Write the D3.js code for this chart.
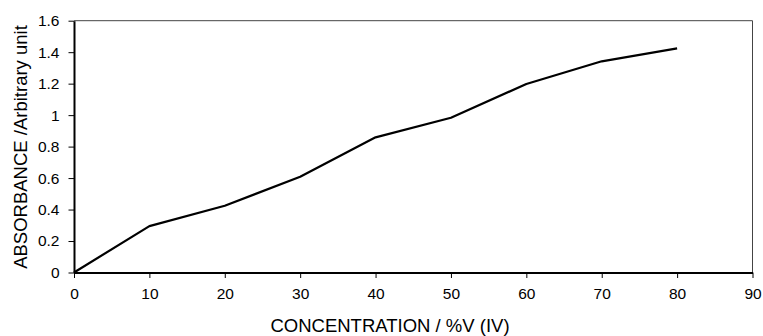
<!DOCTYPE html>
<html>
<head>
<meta charset="utf-8">
<script src="https://cdn.jsdelivr.net/npm/d3@7"></script>
<style>
  body { margin: 0; background: #fff; }
  svg text { font-family: "Liberation Sans", Arial, sans-serif; fill: #000; }
</style>
</head>
<body>
<svg id="chart" width="763" height="336"></svg>
<script>
// concentration values (%V) and absorbance
const concentration = [0, 10, 20, 30, 40, 50, 60, 70, 80];
const absorbance = [0, 0.295, 0.424, 0.609, 0.859, 0.983, 1.198, 1.342, 1.424];
const xTicks = [0, 10, 20, 30, 40, 50, 60, 70, 80, 90];
const yTicks = [0, 0.2, 0.4, 0.6, 0.8, 1, 1.2, 1.4, 1.6];

const svg = d3.select("#chart");
const plotLeft = 74, plotRight = 752.5, plotTop = 20.7, plotBottom = 272.5;

const x = d3.scaleLinear().domain([0, 90]).range([plotLeft, plotRight]);
const y = d3.scaleLinear().domain([0, 1.6]).range([plotBottom, plotTop]);

// frame on top and right
svg.append("path")
  .attr("d", `M${plotLeft},${plotTop}H${plotRight}V${plotBottom}`)
  .attr("fill", "none")
  .attr("stroke", "#444")
  .attr("stroke-width", 1);

// x axis
const xAxis = svg.append("g")
  .attr("transform", `translate(0,${plotBottom})`)
  .call(d3.axisBottom(x).tickValues(xTicks).tickSize(5.5).tickPadding(10).tickSizeOuter(0));
xAxis.select(".domain").attr("stroke", "#000").attr("stroke-width", 2);
xAxis.selectAll(".tick line").attr("stroke", "#000");
xAxis.selectAll("text").style("font-size", "15.5px");

// y axis
const yAxis = svg.append("g")
  .attr("transform", `translate(${plotLeft},0)`)
  .call(d3.axisLeft(y).tickValues(yTicks).tickSize(5.5).tickPadding(9).tickSizeOuter(0)
    .tickFormat(d => String(+d.toFixed(1))));
yAxis.select(".domain").attr("stroke", "#000").attr("stroke-width", 2);
yAxis.selectAll(".tick line").attr("stroke", "#000");
yAxis.selectAll("text").style("font-size", "15.5px");

// data line
const pts = concentration.map((c, i) => [c, absorbance[i]]);
svg.append("path")
  .datum(pts)
  .attr("fill", "none")
  .attr("stroke", "#000")
  .attr("stroke-width", 2.2)
  .attr("stroke-linejoin", "round")
  .attr("d", d3.line().x(d => x(d[0])).y(d => y(d[1])));

// axis titles
svg.append("text")
  .attr("x", 390)
  .attr("y", 332)
  .attr("text-anchor", "middle")
  .style("font-size", "18.5px")
  .text("CONCENTRATION / %V (IV)");

svg.append("text")
  .attr("transform", `translate(26.5,147) rotate(-90)`)
  .attr("text-anchor", "middle")
  .style("font-size", "18.5px")
  .text("ABSORBANCE /Arbitrary unit");
</script>
</body>
</html>
